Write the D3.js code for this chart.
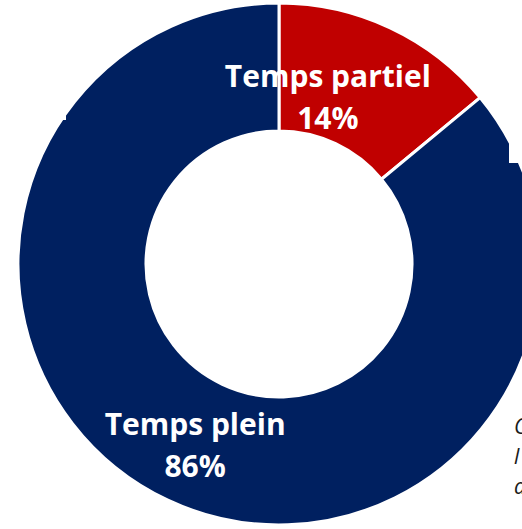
<!DOCTYPE html>
<html>
<head>
<meta charset="utf-8">
<script src="https://cdn.jsdelivr.net/npm/d3@7"></script>
<style>
  html, body { margin: 0; padding: 0; background: #fff; }
  svg { display: block; }
  .slice-label { font-family: "Open Sans", sans-serif; font-weight: 700; fill: #fff; }
  .note { font-family: "Open Sans", sans-serif; font-style: italic; fill: #1a1a1a; }
</style>
</head>
<body>
<svg id="chart"></svg>
<script>
// data
const categories = ["Temps partiel", "Temps plein"];
const shares = [14, 86];
const colors = ["#c00000", "#002060"];
// the note at the right edge is cut off in the source; only its first letters show
const noteLines = ["C", "l", "d"];

function drawDonut(svgSelector) {
  const width = 522;
  const height = 529;
  const cx = 279, cy = 264;
  const outerR = 261, innerR = 133;

  const svg = d3.select(svgSelector)
    .attr("width", width)
    .attr("height", height);

  const pie = d3.pie().sort(null).value((d) => d.value);
  const arcs = pie(categories.map((c, i) => ({ name: c, value: shares[i], color: colors[i] })));

  const arc = d3.arc().innerRadius(innerR).outerRadius(outerR);
  // label ring sits in the middle of the band
  const midR = (innerR + outerR) / 2;
  const labelArc = d3.arc().innerRadius(midR).outerRadius(midR);

  const g = svg.append("g").attr("transform", `translate(${cx}, ${cy})`);

  g.selectAll("path.slice")
    .data(arcs)
    .enter()
    .append("path")
    .attr("class", "slice")
    .attr("d", arc)
    .attr("fill", (d) => d.data.color)
    .attr("stroke", "#fff")
    .attr("stroke-width", 3)
    .attr("stroke-linejoin", "miter");

  // Excel nudged the small slice's label towards the middle
  const nudge = [[-35, 12], [0, 4]];

  const labels = g.selectAll("text.slice-label")
    .data(arcs)
    .enter()
    .append("text")
    .attr("class", "slice-label")
    .attr("text-anchor", "middle")
    .attr("font-size", 30)
    .attr("transform", (d, i) => {
      const [x, y] = labelArc.centroid(d);
      return `translate(${x + nudge[i][0]}, ${y + nudge[i][1]})`;
    });

  labels.append("tspan")
    .attr("x", 0)
    .attr("y", -11)
    .text((d) => d.data.name);

  labels.append("tspan")
    .attr("x", 0)
    .attr("y", 31)
    .text((d) => d.data.value + "%");

  // white boxes from the source page that overlap the ring
  svg.append("rect").attr("x", 0).attr("y", 0).attr("width", 66).attr("height", 120).attr("fill", "#fff");
  svg.append("rect").attr("x", 509).attr("y", 0).attr("width", 13).attr("height", 163).attr("fill", "#fff");

  svg.append("g")
    .selectAll("text.note")
    .data(noteLines)
    .enter()
    .append("text")
    .attr("class", "note")
    .attr("font-size", 21)
    .attr("x", 514)
    .attr("y", (d, i) => 434 + i * 30)
    .text((d) => d);
}

drawDonut("#chart");
</script>
</body>
</html>
